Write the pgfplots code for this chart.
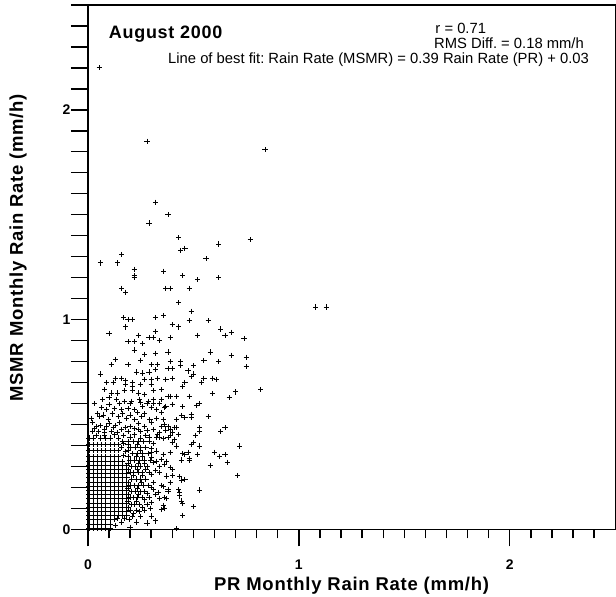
\documentclass[border=0pt]{standalone}
\usepackage{fontspec}
\setmainfont{Liberation Sans}
\usepackage{pgfplots}
\pgfplotsset{compat=1.18}
\frenchspacing
\newcommand{\lblfont}{\fontsize{18.5}{20}\selectfont\bfseries\addfontfeatures{LetterSpace=4}}
\newcommand{\txtfont}{\fontsize{14.8}{16}\selectfont}
\begin{document}
\begin{tikzpicture}
\begin{axis}[
  scale only axis, width=528pt, height=525pt,
  xmin=0, xmax=2.5, ymin=0, ymax=2.5,
  axis line style={line width=1.3pt},
  xtick={0,1,2}, xticklabels={0,1,2},
  minor xtick={0.1,0.2,0.3,0.4,0.5,0.6,0.7,0.8,0.9,1.1,1.2,1.3,1.4,1.5,1.6,1.7,1.8,1.9,2.1,2.2,2.3,2.4},
  ytick={0,0.1,0.2,0.3,0.4,0.5,0.6,0.7,0.8,0.9,1,1.1,1.2,1.3,1.4,1.5,1.6,1.7,1.8,1.9,2,2.1,2.2,2.3,2.4,2.5},
  yticklabels={0,,,,,,,,,,1,,,,,,,,,,2,,,,,},
  xtick pos=bottom, ytick pos=left,
  tick align=outside,
  major tick length=17pt, minor tick length=9pt,
  tick style={black, line width=1.4pt},
  minor tick style={black, line width=1.4pt},
  ticklabel style={font=\fontsize{14}{16}\selectfont\bfseries},
  xticklabel style={yshift=-10pt},
  yticklabel style={xshift=3pt},
  xlabel={PR Monthly Rain Rate (mm/h)},
  ylabel={MSMR Monthly Rain Rate (mm/h)},
  xlabel style={font=\lblfont, at={(axis description cs:0.5,0)}, anchor=base, yshift=-61pt},
  ylabel style={font=\lblfont, at={(axis description cs:-0.1326,0.537)}, anchor=center},
]
\addplot[only marks, mark=+, mark size=2.6pt, mark options={line width=0.9pt, black}] coordinates {
(0.054,2.20) (0.28,1.85) (0.84,1.81) (0.32,1.56) (0.38,1.50) (0.29,1.46) (0.43,1.39) (0.77,1.38)
(0.16,1.31) (0.44,1.33) (0.46,1.34) (0.62,1.36) (0.06,1.27) (0.14,1.27) (0.22,1.24) (0.22,1.21)
(0.22,1.20) (0.36,1.23) (0.56,1.29) (0.45,1.21) (0.52,1.19) (0.62,1.20) (0.16,1.15) (0.18,1.13)
(0.37,1.15) (0.39,1.15) (0.48,1.15) (0.43,1.08) (0.49,1.04) (1.08,1.06) (1.13,1.06) (0.17,1.01)
(0.19,1.00) (0.21,1.00) (0.32,1.01) (0.36,1.02) (0.48,0.995) (0.57,0.995) (0.18,0.965) (0.32,0.945)
(0.40,0.975) (0.43,0.965) (0.63,0.955) (0.10,0.935) (0.68,0.94) (0.74,0.91) (0.24,0.925) (0.29,0.915)
(0.31,0.915) (0.34,0.90) (0.39,0.915) (0.52,0.925) (0.65,0.925) (0.19,0.895) (0.22,0.895) (0.26,0.885)
(0.22,0.855) (0.27,0.835) (0.32,0.84) (0.38,0.845) (0.58,0.845) (0.68,0.83) (0.75,0.82) (0.13,0.81)
(0.11,0.785) (0.19,0.785) (0.25,0.805) (0.30,0.785) (0.33,0.785) (0.39,0.80) (0.44,0.80) (0.44,0.78)
(0.50,0.78) (0.55,0.805) (0.62,0.80) (0.75,0.775) (0.38,0.765) (0.40,0.765) (0.06,0.74) (0.23,0.75)
(0.26,0.745) (0.29,0.75) (0.32,0.76) (0.475,0.755) (0.50,0.74) (0.49,0.73) (0.13,0.72) (0.16,0.72)
(0.18,0.71) (0.21,0.70) (0.27,0.715) (0.30,0.715) (0.33,0.72) (0.37,0.715) (0.40,0.72) (0.55,0.72)
(0.59,0.72) (0.61,0.715) (0.09,0.70) (0.12,0.70) (0.18,0.69) (0.21,0.68) (0.25,0.69) (0.30,0.69)
(0.35,0.667) (0.46,0.70) (0.45,0.68) (0.54,0.70) (0.82,0.667) (0.70,0.655) (0.67,0.627) (0.59,0.648)
(0.08,0.667) (0.11,0.65) (0.14,0.65) (0.175,0.66) (0.21,0.66) (0.24,0.65) (0.27,0.643) (0.31,0.66)
(0.39,0.635) (0.42,0.635) (0.48,0.635) (0.07,0.62) (0.10,0.627) (0.135,0.62) (0.175,0.61) (0.207,0.611)
(0.246,0.619) (0.286,0.611) (0.31,0.619) (0.35,0.62) (0.38,0.635)
(0.065,0.58) (0.088,0.57) (0.128,0.575) (0.16,0.57) (0.19,0.575) (0.22,0.57) (0.26,0.585) (0.30,0.58)
(0.325,0.57) (0.365,0.58) (0.40,0.595) (0.45,0.585) (0.515,0.59) (0.31,0.60) (0.34,0.60) (0.37,0.587) (0.53,0.60)
(0.057,0.537) (0.096,0.524) (0.144,0.537) (0.183,0.53) (0.223,0.524) (0.254,0.537) (0.294,0.524) (0.325,0.53)
(0.357,0.524) (0.42,0.524) (0.444,0.543) (0.49,0.532) (0.57,0.537) (0.35,0.556) (0.46,0.532) (0.49,0.548)
(0.041,0.49) (0.08,0.476) (0.12,0.484) (0.16,0.476) (0.2,0.49) (0.238,0.476) (0.27,0.49) (0.31,0.476)
(0.35,0.49) (0.39,0.476) (0.42,0.484) (0.53,0.484) (0.53,0.468) (0.63,0.468) (0.65,0.484) (0.30,0.508)
(0.365,0.50) (0.38,0.49) (0.41,0.484) (0.02,0.51) (0.10,0.505) (0.15,0.51) (0.24,0.505)
(0.041,0.448) (0.08,0.448) (0.128,0.45) (0.167,0.448) (0.22,0.45) (0.275,0.448) (0.33,0.45) (0.39,0.448)
(0.43,0.452) (0.51,0.448) (0.34,0.46) (0.40,0.46) (0.37,0.473)
(0.325,0.437) (0.34,0.44) (0.357,0.432) (0.38,0.437) (0.41,0.43) (0.40,0.413) (0.42,0.397) (0.49,0.405)
(0.50,0.413) (0.53,0.397) (0.72,0.397) (0.30,0.365) (0.325,0.373) (0.357,0.357) (0.39,0.365) (0.45,0.362)
(0.475,0.368) (0.48,0.337) (0.52,0.357) (0.46,0.357) (0.60,0.368) (0.625,0.349) (0.65,0.357) (0.66,0.32)
(0.58,0.306) (0.30,0.341) (0.31,0.318) (0.325,0.325) (0.35,0.333) (0.373,0.325) (0.444,0.33) (0.48,0.33)
(0.34,0.30) (0.365,0.31) (0.39,0.294) (0.40,0.286) (0.30,0.262) (0.34,0.27) (0.373,0.254) (0.40,0.257)
(0.436,0.25) (0.46,0.238) (0.444,0.235) (0.71,0.257) (0.31,0.222) (0.35,0.21) (0.357,0.203) (0.38,0.19)
(0.43,0.19) (0.436,0.178) (0.53,0.187) (0.39,0.222) (0.38,0.182) (0.31,0.19) (0.333,0.175) (0.34,0.146)
(0.373,0.146) (0.436,0.159) (0.444,0.135) (0.45,0.124) (0.365,0.15) (0.30,0.127) (0.357,0.114) (0.365,0.098)
(0.35,0.095) (0.50,0.108) (0.30,0.063) (0.45,0.067) (0.42,0.003) (0.32,0.04) (0.28,0.03)
(0.16,0.39) (0.18,0.37) (0.17,0.41) (0.03,0.48) (0.06,0.495) (0.09,0.49) (0.13,0.495) (0.18,0.485) (0.22,0.48)
(0.25,0.465) (0.28,0.47) (0.015,0.53) (0.045,0.55) (0.075,0.545) (0.115,0.55) (0.165,0.55) (0.2,0.545) (0.235,0.555)
(0.27,0.55) (0.03,0.6) (0.1,0.595) (0.15,0.6) (0.2,0.6) (0.25,0.605) (0.28,0.6)
(0.195,0.045) (0.23,0.035) (0.215,0.075) (0.245,0.085) (0.19,0.105) (0.26,0.105) (0.295,0.1) (0.19,0.135) (0.23,0.135)
(0.27,0.14) (0.32,0.165) (0.19,0.165) (0.24,0.165) (0.28,0.17) (0.19,0.195) (0.235,0.195) (0.3,0.2) (0.19,0.225)
(0.255,0.225) (0.215,0.255) (0.26,0.255) (0.19,0.285) (0.235,0.285) (0.275,0.285) (0.32,0.28) (0.19,0.315) (0.24,0.315)
(0.27,0.315) (0.19,0.345) (0.23,0.345) (0.26,0.345) (0.19,0.375) (0.25,0.375) (0.3,0.385) (0.19,0.405) (0.235,0.405)
(0.31,0.41) (0.2,0.44) (0.25,0.435) (0.29,0.44)
(0.21,0.06) (0.25,0.06) (0.20,0.09) (0.23,0.09) (0.27,0.09) (0.205,0.12) (0.22,0.12) (0.245,0.12) (0.28,0.12)
(0.20,0.15) (0.215,0.15) (0.235,0.15) (0.26,0.15) (0.29,0.15) (0.205,0.18) (0.225,0.18) (0.25,0.18) (0.27,0.18)
(0.20,0.21) (0.22,0.21) (0.24,0.21) (0.265,0.21) (0.285,0.21) (0.205,0.24) (0.23,0.24) (0.25,0.24) (0.275,0.24)
(0.20,0.27) (0.215,0.27) (0.24,0.27) (0.26,0.27) (0.29,0.27) (0.205,0.30) (0.225,0.30) (0.25,0.30) (0.28,0.30)
(0.20,0.33) (0.22,0.33) (0.245,0.33) (0.27,0.33) (0.295,0.33) (0.21,0.36) (0.235,0.36) (0.26,0.36) (0.285,0.36)
(0.20,0.39) (0.225,0.39) (0.25,0.39) (0.275,0.39) (0.165,0.42) (0.19,0.42) (0.215,0.42) (0.24,0.42) (0.265,0.42) (0.29,0.42)
(0.02,0.465) (0.05,0.465) (0.08,0.46) (0.11,0.465) (0.14,0.46) (0.19,0.465)
(0.005,0.345) (0.025,0.345) (0.045,0.345) (0.065,0.345) (0.085,0.345) (0.105,0.345) (0.125,0.345) (0.145,0.345) (0.17,0.35)
(0.005,0.375) (0.025,0.375) (0.045,0.375) (0.065,0.375) (0.085,0.375) (0.105,0.375) (0.125,0.375) (0.145,0.375)
(0.005,0.405) (0.025,0.405) (0.045,0.405) (0.065,0.405) (0.085,0.405) (0.105,0.405) (0.125,0.405) (0.145,0.405)
(0.005,0.435) (0.025,0.435) (0.06,0.435) (0.085,0.435) (0.105,0.435) (0.145,0.435)
(0.005,0.005) (0.025,0.005) (0.045,0.005) (0.065,0.005) (0.085,0.005) (0.105,0.005)
(0.005,0.025) (0.025,0.025) (0.045,0.025) (0.065,0.025) (0.085,0.025) (0.105,0.025)
(0.005,0.045) (0.025,0.045) (0.045,0.045) (0.065,0.045) (0.085,0.045) (0.105,0.045)
(0.13,0.02) (0.16,0.035) (0.20,0.01) (0.14,0.05) (0.125,0.045) (0.175,0.05)
(0.005,0.065) (0.025,0.065) (0.045,0.065) (0.065,0.065) (0.085,0.065) (0.105,0.065) (0.125,0.065) (0.145,0.065) (0.165,0.065) (0.185,0.065)
(0.005,0.085) (0.025,0.085) (0.045,0.085) (0.065,0.085) (0.085,0.085) (0.105,0.085) (0.125,0.085) (0.145,0.085) (0.165,0.085) (0.185,0.085)
(0.005,0.105) (0.025,0.105) (0.045,0.105) (0.065,0.105) (0.085,0.105) (0.105,0.105) (0.125,0.105) (0.145,0.105) (0.165,0.105) (0.185,0.105)
(0.005,0.125) (0.025,0.125) (0.045,0.125) (0.065,0.125) (0.085,0.125) (0.105,0.125) (0.125,0.125) (0.145,0.125) (0.165,0.125) (0.185,0.125)
(0.005,0.145) (0.025,0.145) (0.045,0.145) (0.065,0.145) (0.085,0.145) (0.105,0.145) (0.125,0.145) (0.145,0.145) (0.165,0.145) (0.185,0.145)
(0.005,0.165) (0.025,0.165) (0.045,0.165) (0.065,0.165) (0.085,0.165) (0.105,0.165) (0.125,0.165) (0.145,0.165) (0.165,0.165) (0.185,0.165)
(0.005,0.185) (0.025,0.185) (0.045,0.185) (0.065,0.185) (0.085,0.185) (0.105,0.185) (0.125,0.185) (0.145,0.185) (0.165,0.185) (0.185,0.185)
(0.005,0.205) (0.025,0.205) (0.045,0.205) (0.065,0.205) (0.085,0.205) (0.105,0.205) (0.125,0.205) (0.145,0.205) (0.165,0.205) (0.185,0.205)
(0.005,0.225) (0.025,0.225) (0.045,0.225) (0.065,0.225) (0.085,0.225) (0.105,0.225) (0.125,0.225) (0.145,0.225) (0.165,0.225) (0.185,0.225)
(0.005,0.245) (0.025,0.245) (0.045,0.245) (0.065,0.245) (0.085,0.245) (0.105,0.245) (0.125,0.245) (0.145,0.245) (0.165,0.245) (0.185,0.245)
(0.005,0.265) (0.025,0.265) (0.045,0.265) (0.065,0.265) (0.085,0.265) (0.105,0.265) (0.125,0.265) (0.145,0.265) (0.165,0.265) (0.185,0.265)
(0.005,0.285) (0.025,0.285) (0.045,0.285) (0.065,0.285) (0.085,0.285) (0.105,0.285) (0.125,0.285) (0.145,0.285) (0.165,0.285) (0.185,0.285)
(0.005,0.305) (0.025,0.305) (0.045,0.305) (0.065,0.305) (0.085,0.305) (0.105,0.305) (0.125,0.305) (0.145,0.305) (0.165,0.305) (0.185,0.305)
(0.005,0.325) (0.025,0.325) (0.045,0.325) (0.065,0.325) (0.085,0.325) (0.105,0.325) (0.125,0.325) (0.145,0.325) (0.165,0.325)
};
\node[anchor=west, font=\fontsize{18}{20}\selectfont\bfseries\addfontfeatures{LetterSpace=4}] at (axis cs:0.083,2.362) {August 2000};
\node[anchor=west, font=\txtfont, inner sep=0pt] at (axis cs:1.647,2.386) {r = 0.71};
\node[anchor=east, font=\txtfont, inner sep=0pt] at (axis cs:2.352,2.316) {RMS Diff. = 0.18 mm/h};
\node[anchor=east, font=\txtfont, inner sep=0pt] at (axis cs:2.376,2.238) {Line of best fit: Rain Rate (MSMR) = 0.39 Rain Rate (PR) + 0.03};
\coordinate (bbsw) at (rel axis cs:-0.1667,-0.1276);
\coordinate (bbne) at (rel axis cs:1.0015,1.0095);
\end{axis}
\pgfresetboundingbox
\useasboundingbox (bbsw) rectangle (bbne);
\end{tikzpicture}
\end{document}
